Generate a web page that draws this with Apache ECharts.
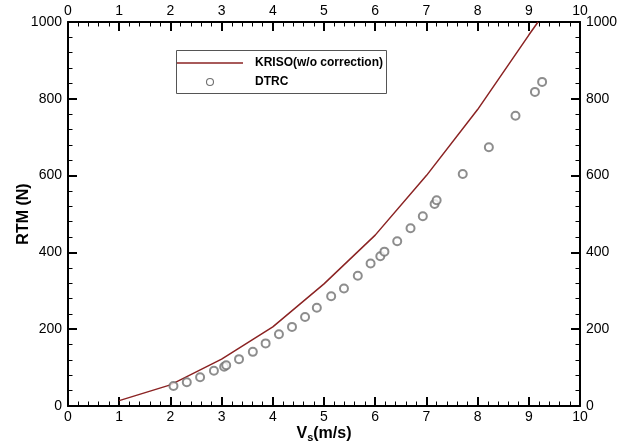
<!DOCTYPE html>
<html>
<head>
<meta charset="utf-8">
<script src="https://cdn.jsdelivr.net/npm/echarts@6/dist/echarts.min.js"></script>
<style>html,body{margin:0;padding:0;background:#fff}#c{width:634px;height:445px}</style>
</head>
<body>
<div id="c"></div>
<script>
var seriesNames = ['KRISO(w/o correction)', 'DTRC'];
var xTicks = [0,1,2,3,4,5,6,7,8,9,10];
var yTicks = [0,200,400,600,800,1000];
var krisoX = [1, 2, 3, 4, 5, 6, 7, 8, 9, 9.18];
var krisoY = [14, 55, 122, 206, 318, 445, 600, 772, 966, 1000];
var dtrcX = [2.06,2.32,2.58,2.85,3.05,3.09,3.34,3.61,3.86,4.12,4.375,4.63,4.86,5.14,5.39,5.66,5.91,6.10,6.18,6.43,6.69,6.93,7.16,7.20,7.71,8.22,8.74,9.12,9.26];
var dtrcY = [52,62,75,92,102,106,122,141,163,187,206,232,256,286,306,339,371,390,402,429,463,494,526,536,604,674,756,818,844];

var font = 'Arial, "Liberation Sans", sans-serif';
var chart = echarts.init(document.getElementById('c'), null, {renderer: 'canvas'});
function fmt(v) { return String(v); }
function mkX(pos, showName) {
  return {
    type: 'value', position: pos, min: xTicks[0], max: xTicks[xTicks.length-1], interval: 1,
    axisLine: {show: true, onZero: false, lineStyle: {color: '#000', width: 2}},
    axisTick: {show: true, inside: true, length: 9, lineStyle: {color: '#000', width: 2}},
    minorTick: {show: true, splitNumber: 5, length: 4.5, lineStyle: {color: '#000', width: 1}},
    splitLine: {show: false},
    axisLabel: {show: true, margin: 4, color: '#000', fontSize: 14, fontFamily: font, formatter: fmt},
    name: showName ? '{a|V}{b|s}{a|(m/s)}' : '',
    nameLocation: 'middle', nameGap: 18, nameMoveOverlap: false,
    nameTextStyle: {rich: {
      a: {fontSize: 16, fontWeight: 'bold', fontFamily: font, color: '#000'},
      b: {fontSize: 11, fontWeight: 'bold', fontFamily: font, color: '#000', verticalAlign: 'bottom', padding: [8,0,0,0]}
    }}
  };
}
function mkY(pos, showName) {
  return {
    type: 'value', position: pos, min: yTicks[0], max: yTicks[yTicks.length-1], interval: 200,
    axisLine: {show: true, onZero: false, lineStyle: {color: '#000', width: 2}},
    axisTick: {show: true, inside: true, length: 9, lineStyle: {color: '#000', width: 2}},
    minorTick: {show: true, splitNumber: 5, length: 4.5, lineStyle: {color: '#000', width: 1}},
    splitLine: {show: false},
    axisLabel: {show: true, margin: 6, color: '#000', fontSize: 14, fontFamily: font, formatter: fmt},
    name: showName ? 'RTM (N)' : '',
    nameLocation: 'middle', nameGap: 36, nameMoveOverlap: false,
    nameTextStyle: {fontSize: 16, fontWeight: 'bold', fontFamily: font, color: '#000'}
  };
}
var lineData = krisoX.map(function(x, i){ return [x, krisoY[i]]; });
var scatData = dtrcX.map(function(x, i){ return [x, dtrcY[i]]; });
chart.setOption({
  animation: false,
  backgroundColor: '#fff',
  grid: {left: 68, right: 54, top: 22, bottom: 39, containLabel: false, outerBoundsMode: 'none'},
  xAxis: [mkX('bottom', true), mkX('top', false)],
  yAxis: [mkY('left', true), mkY('right', false)],
  series: [
    {name: seriesNames[0], type: 'line', data: lineData, showSymbol: false, symbol: 'none',
     lineStyle: {color: '#8b2323', width: 1.5}, clip: true, z: 3},
    {name: seriesNames[1], type: 'scatter', data: scatData, symbol: 'emptyCircle', symbolSize: 8,
     itemStyle: {color: '#707070', borderColor: '#707070', borderWidth: 1.1}, z: 4}
  ],
  graphic: [
    {type: 'rect', shape: {x: 176.5, y: 50.5, width: 210, height: 43},
     style: {fill: '#fff', stroke: '#555', lineWidth: 1}, z: 10},
    {type: 'line', shape: {x1: 177, y1: 63, x2: 243, y2: 63},
     style: {stroke: '#8b2323', lineWidth: 1.5}, z: 11},
    {type: 'circle', shape: {cx: 210, cy: 82, r: 3.5},
     style: {fill: '#fff', stroke: '#707070', lineWidth: 1.1}, z: 11},
    {type: 'text', x: 255, y: 63, style: {text: seriesNames[0], font: 'bold 12px ' + font, fill: '#000', textVerticalAlign: 'middle'}, z: 11},
    {type: 'text', x: 255, y: 82, style: {text: seriesNames[1], font: 'bold 12px ' + font, fill: '#000', textVerticalAlign: 'middle'}, z: 11}
  ]
});
</script>
</body>
</html>
